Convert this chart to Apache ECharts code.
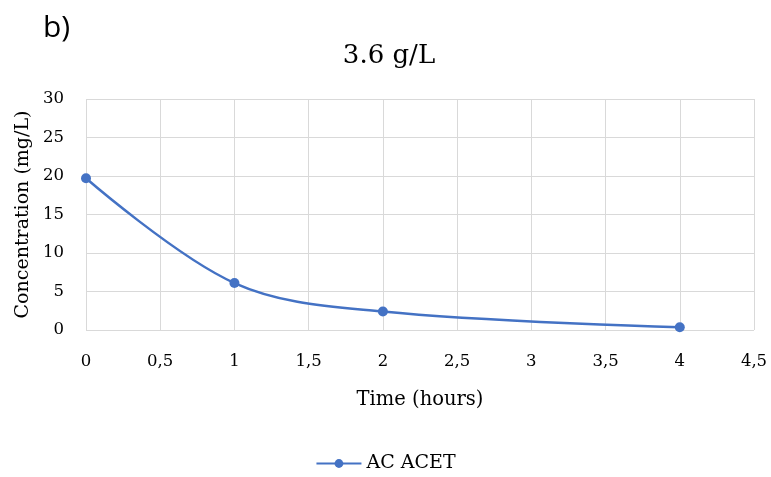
<!DOCTYPE html>
<html><head><meta charset="utf-8">
<script src="https://cdn.jsdelivr.net/npm/echarts@6/dist/echarts.min.js"></script>
<style>html,body{margin:0;padding:0;background:#fff}#c{width:771px;height:477px}</style>
</head><body><div id="c"></div>
<script>
const times = [0, 1, 2, 4];
const concentration = [19.7, 6.1, 2.4, 0.35];
const seriesName = 'AC ACET';
const titleText = '3.6 g/L';
const panelLabel = 'b)';

const chart = echarts.init(document.getElementById('c'), null, {renderer: 'canvas'});
const serif = '"DejaVu Serif", "Liberation Serif", serif';
chart.setOption({
  animation: false,
  backgroundColor: '#fff',
  title: [
    {text: panelLabel, left: 38, top: 8, textStyle: {fontFamily: '"Open Sans", "Liberation Sans", sans-serif', fontSize: 30, fontWeight: 'normal', color: '#000'}},
    {text: titleText, left: 384, top: 38, textAlign: 'center', textStyle: {fontFamily: serif, fontSize: 26, fontWeight: 'normal', color: '#000'}}
  ],
  legend: {
    top: 449, left: 'center',
    data: [seriesName],
    itemWidth: 45, itemHeight: 11, itemGap: 6,
    textStyle: {fontFamily: serif, fontSize: 19, color: '#000'}
  },
  grid: {left: 86, right: 17, top: 99, bottom: 147, containLabel: false},
  xAxis: {
    type: 'value', min: 0, max: 4.5, interval: 0.5,
    name: 'Time (hours)', nameLocation: 'middle', nameGap: 60,
    nameTextStyle: {fontFamily: serif, fontSize: 19.5, color: '#000'},
    axisLine: {show: false}, axisTick: {show: false},
    axisLabel: {fontFamily: serif, fontSize: 16.5, color: '#000', margin: 23,
      formatter: v => String(v).replace('.', ',')},
    splitLine: {show: true, lineStyle: {color: '#d9d9d9', width: 1}}
  },
  yAxis: {
    type: 'value', min: 0, max: 30, interval: 5,
    name: 'Concentration (mg/L)', nameLocation: 'middle', nameGap: 52, nameRotate: 90,
    nameTextStyle: {fontFamily: serif, fontSize: 19, color: '#000'},
    axisLine: {show: false}, axisTick: {show: false},
    axisLabel: {fontFamily: serif, fontSize: 16.5, color: '#000', margin: 22},
    splitLine: {show: true, lineStyle: {color: '#d9d9d9', width: 1}}
  },
  series: [{
    name: seriesName, type: 'line', smooth: 0.35,
    data: times.map((t, i) => [t, concentration[i]]),
    symbol: 'circle', symbolSize: 10,
    itemStyle: {color: '#4472C4'},
    lineStyle: {color: '#4472C4', width: 2.5}
  }]
});
</script></body></html>
